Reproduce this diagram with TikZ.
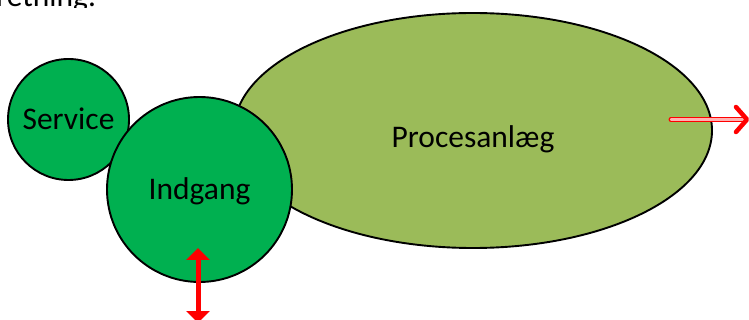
\documentclass[tikz,border=0pt]{standalone}
\usepackage{fontspec}
\setmainfont{Carlito}
\usetikzlibrary{shapes.geometric,arrows.meta}

\definecolor{zonegreen}{HTML}{00B050}
\definecolor{plantgreen}{HTML}{9BBB59}
\definecolor{flowred}{HTML}{FF0000}

\tikzset{
  zone/.style={circle,draw=black,line width=1.9pt,fill=zonegreen,inner sep=0pt,
    font=\fontsize{31.5}{38}\selectfont,text height=21pt,text depth=0pt},
  plant/.style={ellipse,draw=black,line width=1.9pt,fill=plantgreen,inner sep=0pt,
    font=\fontsize{31.5}{38}\selectfont,text depth=0pt},
  flowboth/.style={flowred,line width=5pt,{Triangle[length=12pt,width=23pt]}-{Triangle[length=12pt,width=23pt]}},
  flowout/.style={flowred,line width=1.3pt,double=flowred!30,double distance=2.4pt,line cap=round}
}

\begin{document}
\begin{tikzpicture}[x=1pt,y=-1pt]
\useasboundingbox (0,0) rectangle (749,320);
\clip (0,0) rectangle (749,320);

% The text line above
\begin{scope}
\clip (-10,-20) rectangle (120,7.5);
\node[anchor=base west,inner sep=0pt,font=\fontsize{31.5}{38}\selectfont] (retning) at (-4,7) {retning:};
\end{scope}

% The process plant and the two zones
\node[plant,minimum width=478pt,minimum height=235pt,text height=35pt] (proces) at (473,130.5) {Procesanlæg};
\node[zone,minimum size=121pt] (service) at (68.5,119.5) {Service};
\node[zone,minimum size=185pt] (indgang) at (199.5,189.5) {Indgang};

% The flows
\coordinate (intop) at (198,248);
\coordinate (inbot) at (198,323);
\draw[flowboth] (intop) -- (inbot);

\coordinate (outstart) at (671,119.5);
\coordinate (outtip) at (747,119.5);
\draw[flowout] (outstart) -- ([xshift=-2pt]outtip);
\draw[flowred,line width=4.5pt,line cap=round,line join=round]
  ([xshift=-11pt,yshift=-12.5pt]outtip) -- (outtip) -- ([xshift=-11pt,yshift=12.5pt]outtip);

\end{tikzpicture}
\end{document}
